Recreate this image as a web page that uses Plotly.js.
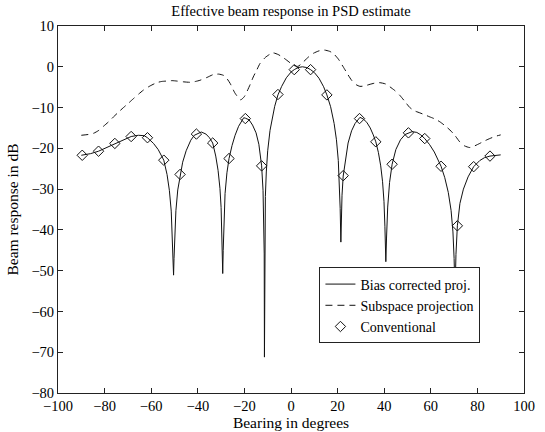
<!DOCTYPE html>
<html>
<head>
<meta charset="utf-8">
<script src="https://cdn.plot.ly/plotly-3.0.1.min.js"></script>
<style>html,body{margin:0;padding:0;background:#fff;}#chart{width:545px;height:432px;}</style>
</head>
<body>
<div id="chart"></div>
<script>
// Bias corrected projection (solid line)
var biasX = [-90,-86,-82.6,-79,-75.6,-72,-68.6,-65.5,-63,-61.6,-59,-57,-54.6,-53.2,-52.2,-51.4,-50.9,-50.6,-50.4,-50.2,-49.9,-49.4,-48.6,-47.6,-46.5,-45,-43,-41.5,-40.6,-38.5,-36.5,-35,-33.6,-32.3,-31.3,-30.5,-30.0,-29.6,-29.3,-29.1,-28.8,-28.3,-27.5,-26.6,-25.3,-24,-22.5,-21,-20.3,-19.6,-18,-16.5,-15,-13.8,-12.6,-12.0,-11.7,-11.5,-11.4,-11.3,-11.2,-11.0,-10.6,-10,-9,-8,-7,-5.6,-4,-2,0,1.4,3,4.9,6.8,8.4,10,12,14,15.4,17,18.5,19.5,20.3,20.8,21.1,21.4,21.65,21.9,22.4,23.4,24.5,26,27.5,29.6,31,32.5,34,35.3,36.4,37.5,38.5,39.3,39.9,40.3,40.7,41.0,41.5,42.3,43.4,45,47,49,50.4,52,54,55.7,57.4,59.5,61.5,63,64.4,66,67.5,68.7,69.5,70.0,70.4,70.8,71.4,72.5,74,76,78.4,81,83,85.4,88,90];
var biasY = [-21.7,-21.3,-20.7,-19.8,-18.8,-17.9,-17.1,-16.8,-16.9,-17.4,-18.8,-20.3,-22.9,-26.4,-30.3,-35.4,-41.4,-47,-51.1,-47,-41.3,-35.3,-30.2,-26.4,-23.4,-20.6,-18.0,-16.8,-16.5,-16.0,-16.5,-17.4,-18.7,-21.9,-25.4,-29.8,-34.5,-41.9,-50.7,-45.1,-37.1,-31.1,-26.0,-22.5,-19.3,-16.8,-14.6,-13.0,-12.5,-12.6,-13.0,-14.3,-16.2,-19.0,-24.3,-30.3,-36.4,-45.9,-71.2,-44.4,-38.3,-31.8,-25.8,-20.6,-15.6,-12.2,-9.7,-6.9,-4.8,-2.7,-1.3,-0.7,-0.2,0.0,-0.2,-0.7,-1.4,-2.8,-4.9,-6.9,-9.8,-13.9,-17.9,-23.0,-28.6,-34.7,-43.0,-36,-31.5,-26.8,-22.3,-18.7,-15.7,-13.9,-12.4,-12.8,-13.6,-15.0,-16.7,-18.4,-21.0,-24.3,-28.2,-33.0,-39.1,-47.8,-42,-34.4,-28.4,-23.9,-20.3,-17.9,-16.6,-16.2,-15.9,-16.1,-16.7,-17.6,-19.1,-20.9,-22.6,-24.4,-27.2,-30.8,-35.2,-40.5,-47,-56,-46,-39.0,-33.5,-30.0,-27.0,-24.5,-23.0,-22.3,-21.9,-21.7,-21.6];

// Subspace projection (dashed line)
var subX = [-90,-87,-84.7,-82.5,-80.5,-78.3,-76.2,-74,-71.9,-69.7,-67.6,-65.4,-63.3,-60.5,-57.6,-55.5,-53.3,-51,-49,-46,-43.3,-41,-39,-36,-33.3,-31,-29,-27.5,-26.1,-24,-21.6,-20,-19,-17.5,-16.2,-14.7,-13.3,-11,-9,-7.6,-5.5,-3.5,-1.8,1.0,3.0,5.3,7.5,9.6,12,14.3,16.5,18.1,20.3,22.4,24.3,26,28,29.6,31.5,33.9,36,38.1,40.5,42.4,44.5,46.7,49,51,53,55.3,57.5,59.6,61.8,63.9,66,68.2,70.3,72.4,74.5,76.7,78.8,81,83,85.3,87.5,90];
var subY = [-16.8,-16.6,-16.3,-15.6,-14.6,-13.5,-12.3,-11.1,-10.0,-8.9,-7.8,-6.7,-5.7,-4.7,-3.9,-3.6,-3.5,-3.4,-3.5,-3.7,-3.8,-3.6,-3.3,-2.6,-1.9,-1.8,-2.1,-2.9,-4.1,-6.5,-8.1,-7.3,-6.2,-4.3,-2.5,-0.8,0.8,2.3,3.1,3.4,3.0,2.3,1.6,0.4,0.1,1.2,2.4,3.3,3.9,4.1,3.8,3.3,1.9,0.0,-1.8,-3.3,-4.4,-4.8,-4.7,-4.3,-4.0,-3.9,-4.2,-4.9,-5.8,-7.0,-8.6,-10.0,-10.8,-11.3,-11.8,-12.3,-12.8,-13.5,-14.4,-15.5,-16.8,-18.4,-19.4,-19.8,-19.4,-18.8,-18.2,-17.6,-17.1,-16.7];

// Conventional (diamond markers)
var convX = [-89.6,-82.6,-75.6,-68.6,-61.6,-54.6,-47.6,-40.6,-33.6,-26.6,-19.6,-12.6,-5.6,1.4,8.4,15.4,22.4,29.4,36.4,43.4,50.4,57.4,64.4,71.4,78.4,85.4];
var convY = [-21.7,-20.7,-18.8,-17.1,-17.4,-22.9,-26.4,-16.5,-18.7,-22.5,-12.7,-24.3,-6.8,-0.7,-0.7,-6.9,-26.7,-12.7,-18.4,-23.9,-16.2,-17.6,-24.4,-39.0,-24.5,-21.9];

var seriesNames = ['Bias corrected proj.', 'Subspace projection', 'Conventional'];
var titleText = 'Effective beam response in PSD estimate';
var xTitle = 'Bearing in degrees';
var yTitle = 'Beam response in dB';

var fontFam = '"Liberation Serif", "Times New Roman", Times, serif';

var traces = [
  {x: biasX, y: biasY, type: 'scatter', mode: 'lines', name: seriesNames[0],
   line: {color: '#111', width: 1}},
  {x: subX, y: subY, type: 'scatter', mode: 'lines', name: seriesNames[1],
   line: {color: '#111', width: 1, dash: '7px,5px', shape: 'spline', smoothing: 0.6}},
  {x: convX, y: convY, type: 'scatter', mode: 'markers', name: seriesNames[2],
   marker: {symbol: 'diamond-open', size: 8, color: '#111', line: {width: 1, color: '#111'}}}
];

var axisCommon = {
  ticks: 'inside', ticklen: 5, tickwidth: 1, tickcolor: '#222',
  mirror: 'ticks', showline: true, linecolor: '#222', linewidth: 1,
  showgrid: false, zeroline: false, automargin: false,
  tickfont: {family: fontFam, size: 14.5, color: '#000'}
};

var layout = {
  width: 545, height: 432,
  margin: {l: 58, r: 21, t: 26, b: 39, pad: 0},
  paper_bgcolor: '#fff', plot_bgcolor: '#fff',
  font: {family: fontFam, size: 14.5, color: '#000'},
  title: {text: titleText, x: 0.5, xanchor: 'center', xref: 'paper', y: 1 - 11/432, yanchor: 'middle',
          font: {family: fontFam, size: 14.5, color: '#000'}},
  xaxis: Object.assign({}, axisCommon, {range: [-100, 100], dtick: 20, tick0: 0,
          title: {text: xTitle, standoff: 3, font: {family: fontFam, size: 15.5, color: '#000'}}}),
  yaxis: Object.assign({}, axisCommon, {range: [-80, 10], dtick: 10, tick0: 0,
          title: {text: yTitle, standoff: 8, font: {family: fontFam, size: 15.5, color: '#000'}}}),
  legend: {x: 0.561, y: 0.342, xanchor: 'left', yanchor: 'top', bgcolor: '#fff',
           bordercolor: '#222', borderwidth: 1, font: {family: fontFam, size: 14, color: '#000'},
           tracegroupgap: 0},
  showlegend: true
};

Plotly.newPlot('chart', traces, layout, {displayModeBar: false, staticPlot: true});
</script>
</body>
</html>
